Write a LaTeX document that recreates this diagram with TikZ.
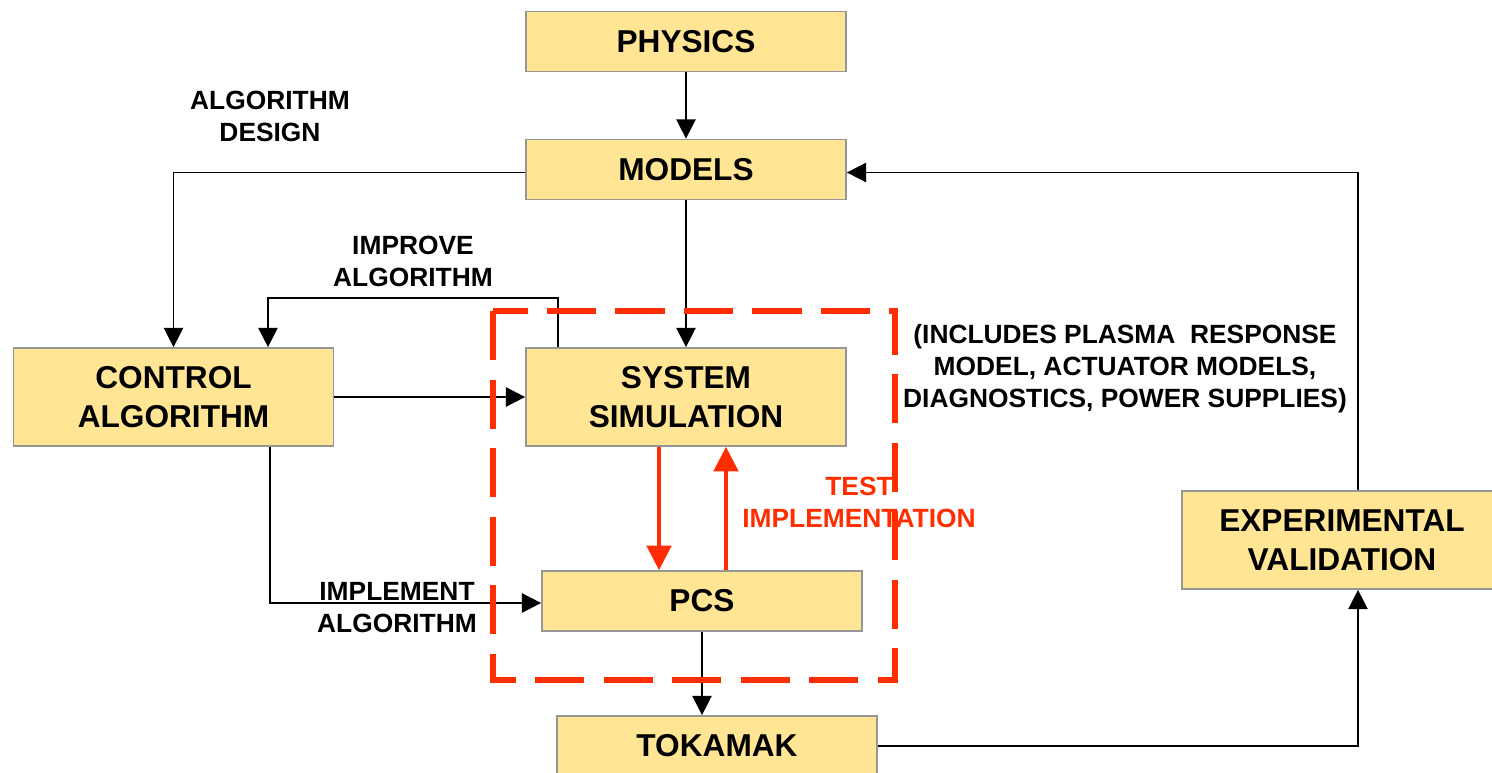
\documentclass[tikz,border=0pt]{standalone}
\usepackage{fontspec}
\setmainfont{Liberation Sans}
\usetikzlibrary{arrows.meta}
\definecolor{boxfill}{RGB}{255,229,148}
\definecolor{boxline}{RGB}{150,150,150}
\definecolor{testred}{RGB}{255,45,0}
\begin{document}
\begin{tikzpicture}[x=0.02cm,y=-0.02cm,
  block/.style={draw=boxline,line width=1pt,fill=boxfill,minimum width=6.4cm,minimum height=1.2cm,
    inner sep=0pt,align=center,font=\fontsize{18}{22}\selectfont\bfseries},
  tall/.style={block,minimum height=1.96cm},
  lbl/.style={align=center,font=\fontsize{15}{18.2}\selectfont\bfseries},
  arr/.style={line width=0.9pt,-{Triangle[length=11pt,width=11pt]}},
  redarr/.style={testred,line width=2pt,-{Triangle[length=14pt,width=14pt]}},
  testbox/.style={testred,line width=3.2pt,dash pattern=on 28pt off 11pt}]
\useasboundingbox (0,0) rectangle (1492,773);
\node[block] (phys) at (686,41.5) {PHYSICS};
\node[block] (models) at (686,169.5) {MODELS};
\node[tall] (ctrl) at (173.5,397) {CONTROL\\ALGORITHM};
\node[tall] (sys) at (686,397) {SYSTEM\\SIMULATION};
\node[block] (pcs) at (702,601) {PCS};
\node[block] (tok) at (717,746) {TOKAMAK};
\node[tall] (exp) at (1342,540) {EXPERIMENTAL\\VALIDATION};
\draw[arr] (phys) -- (models);
\draw[arr] ([yshift=-0.06cm]models.west) -| (ctrl);
\draw[arr] (models) -- (sys);
\draw[arr] ([xshift=-2.56cm]sys.north) -- ++(0,-49) -| ([xshift=1.89cm]ctrl.north);
\draw[arr] (ctrl) -- (sys);
\draw[arr] ([xshift=1.93cm]ctrl.south) |- ([yshift=-0.04cm]pcs.west);
\draw[arr] (pcs.south) -- (pcs.south |- tok.north);
\draw[arr] (tok.east) -| ([xshift=0.32cm]exp.south);
\draw[arr] ([xshift=0.32cm]exp.north) |- ([yshift=-0.06cm]models.east);
\draw[testbox] (493,311) rectangle (895,680);
\draw[redarr] ([xshift=-0.54cm]sys.south) -- ([xshift=-0.54cm]sys.south |- pcs.north);
\draw[redarr] ([xshift=0.48cm]pcs.north) -- ([xshift=0.48cm]pcs.north |- sys.south);
\node[lbl] (design) at (270,116) {ALGORITHM\\DESIGN};
\node[lbl] (improve) at (413,261) {IMPROVE\\ALGORITHM};
\node[lbl] (implement) at (397,608) {IMPLEMENT\\ALGORITHM};
\node[lbl] (includes) at (1125,369) {(INCLUDES PLASMA \ RESPONSE\\MODEL, ACTUATOR MODELS,\\DIAGNOSTICS, POWER SUPPLIES)};
\node[lbl,testred] (test) at (859,502) {TEST\\IMPLEMENTATION};
\end{tikzpicture}
\end{document}
